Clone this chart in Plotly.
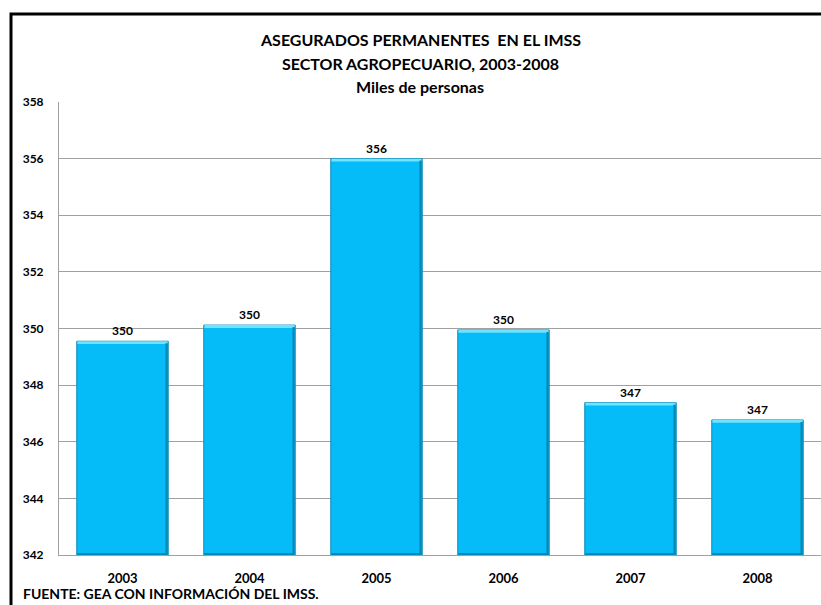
import plotly.graph_objects as go

years = ["2003", "2004", "2005", "2006", "2007", "2008"]
values = [349.55, 350.12, 356.0, 349.95, 347.38, 346.77]
y_ticks = [342, 344, 346, 348, 350, 352, 354, 356, 358]
title_lines = ["ASEGURADOS PERMANENTES  EN EL IMSS", "SECTOR AGROPECUARIO, 2003-2008", "Miles de personas"]
source_note = "FUENTE: GEA CON INFORMACIÓN DEL IMSS."

FONT = "Lato, 'Open Sans', sans-serif"
Y0 = 342
BW = 0.72

fig = go.Figure()
# main bars
fig.add_trace(go.Bar(
    x=years, y=[v - Y0 for v in values], base=Y0,
    width=BW, offset=-BW / 2,
    marker=dict(color="#05BBF8", line=dict(color="#0A8DB8", width=1)),
    text=[f"<b>{v:.0f}</b>" for v in values], textposition="outside",
    textfont=dict(family=FONT, size=12, color="black"),
    cliponaxis=False, hoverinfo="skip",
))
# top bevel highlight
fig.add_trace(go.Bar(
    x=years, y=[0.1] * len(values), base=[v - 0.1 for v in values],
    width=BW - 0.01, offset=-BW / 2 + 0.005,
    marker=dict(color="#6FE3FF", line=dict(width=0)), hoverinfo="skip",
))
# right bevel shade
fig.add_trace(go.Bar(
    x=years, y=[v - Y0 - 0.12 for v in values], base=Y0 + 0.05,
    width=0.018, offset=BW / 2 - 0.022,
    marker=dict(color="#0789B5", line=dict(width=0)), hoverinfo="skip",
))
# bottom bevel shade
fig.add_trace(go.Bar(
    x=years, y=[0.07] * len(values), base=Y0,
    width=BW - 0.01, offset=-BW / 2 + 0.005,
    marker=dict(color="#0789B5", line=dict(width=0)), hoverinfo="skip",
))

annotations = []
for i, line in enumerate(title_lines):
    annotations.append(dict(
        text=f"<b>{line}</b>", xref="paper", yref="paper",
        x=(420 - 59) / 762, y=(555 - (40 + 23 * i)) / 453,
        xanchor="center", yanchor="middle", showarrow=False,
        font=dict(family=FONT, size=16, color="black"),
    ))
annotations.append(dict(
    text=f"<b>{source_note}</b>", xref="paper", yref="paper",
    x=(21 - 59) / 762, y=(555 - 593) / 453,
    xanchor="left", yanchor="middle", showarrow=False,
    font=dict(family=FONT, size=14, color="black"),
))

fig.update_layout(
    width=821, height=605,
    margin=dict(l=59, r=0, t=102, b=50),
    paper_bgcolor="white", plot_bgcolor="white",
    barmode="overlay", showlegend=False,
    annotations=annotations,
    shapes=[dict(type="rect", xref="paper", yref="paper",
                 x0=(11 - 59) / 762, x1=1.2, y0=-0.3, y1=(555 - 14) / 453,
                 line=dict(color="black", width=3), layer="above")],
)
fig.update_yaxes(
    range=[342, 358], tickvals=y_ticks, ticktext=[f"<b>{t}</b>" for t in y_ticks],
    showgrid=True, gridcolor="#A0A0A0", gridwidth=1,
    showline=True, linecolor="#A0A0A0", linewidth=1, mirror=False,
    ticks="", ticklabelstandoff=12, zeroline=False,
    tickfont=dict(family=FONT, size=12, color="black"),
)
fig.update_xaxes(
    ticktext=[f"<b>{y}</b>" for y in years], tickvals=years,
    showline=True, linecolor="#A0A0A0", linewidth=1,
    ticks="", ticklabelstandoff=11,
    tickfont=dict(family=FONT, size=13, color="black"),
)
fig.write_html("out.html", config={"displayModeBar": False},
               post_script="document.body.style.margin='0';document.body.style.overflow='hidden';")
